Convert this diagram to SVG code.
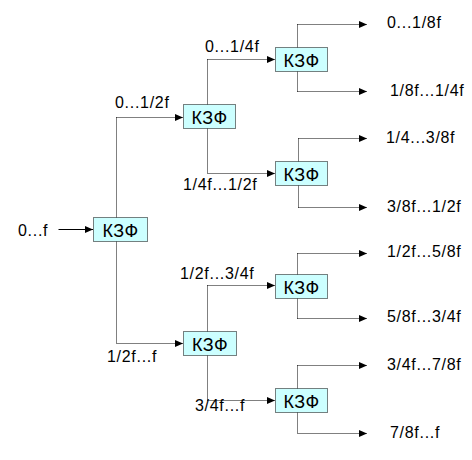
<svg xmlns="http://www.w3.org/2000/svg" width="472" height="460" viewBox="0 0 472 460">
<style>
.bg{fill:#fff}
.box rect{fill:#ccffff;stroke:#000;stroke-width:1;stroke-dasharray:1 1}
.box text{font-family:"Liberation Sans",Arial,sans-serif;font-size:18px;text-anchor:middle;fill:#000;letter-spacing:0.5px}
.lbl{font-family:"Liberation Sans",Arial,sans-serif;font-size:16px;fill:#000;letter-spacing:0.7px}
.c path{fill:none;stroke:#000;stroke-width:1;stroke-dasharray:1 1}
.c .solid{stroke-dasharray:none}
.a{marker-end:url(#ah)}
</style>
<defs>
<marker id="ah" viewBox="0 0 8 8" refX="8" refY="4" markerWidth="8" markerHeight="8" markerUnits="userSpaceOnUse" orient="auto">
<path d="M0,0.5 L8,4 L0,7.5 Z" fill="#000"/>
</marker>
</defs>
<rect class="bg" x="0" y="0" width="472" height="460"/>
<g id="connectors" class="c">
<path class="solid a" d="M58.5,229.5 H93"/>
<path d="M116.5,117.5 V343.5"/>
<path class="a" d="M116.5,117.5 H183"/>
<path class="a" d="M116.5,343.5 H183"/>
<path d="M207.5,59.5 V173.5"/>
<path class="a" d="M207.5,59.5 H275"/>
<path class="a" d="M207.5,173.5 H275"/>
<path d="M207.5,285.5 V400.5"/>
<path class="a" d="M207.5,285.5 H275"/>
<path class="a" d="M207.5,400.5 H275"/>
<path d="M297.5,24.5 V91.5"/>
<path class="a" d="M297.5,24.5 H367"/>
<path class="a" d="M297.5,91.5 H367"/>
<path d="M298.5,138.5 V207.5"/>
<path class="a" d="M298.5,138.5 H367"/>
<path class="a" d="M298.5,207.5 H367"/>
<path d="M297.5,253.5 V318.5"/>
<path class="a" d="M297.5,253.5 H367"/>
<path class="a" d="M297.5,318.5 H367"/>
<path d="M297.5,365.5 V433.5"/>
<path class="a" d="M297.5,365.5 H367"/>
<path class="a" d="M297.5,433.5 H367"/>
</g>
<g id="n0" class="box"><rect x="93.5" y="217.5" width="54" height="24"/><text x="120.5" y="236.5">КЗФ</text></g>
<g id="n1" class="box"><rect x="183.5" y="104.5" width="52" height="24"/><text x="209.5" y="123.5">КЗФ</text></g>
<g id="n2" class="box"><rect x="183.5" y="331.5" width="53" height="24"/><text x="210" y="350.5">КЗФ</text></g>
<g id="n3" class="box"><rect x="275.5" y="47.5" width="52" height="24"/><text x="301.5" y="66.5">КЗФ</text></g>
<g id="n4" class="box"><rect x="275.5" y="161.5" width="52" height="24"/><text x="301.5" y="180.5">КЗФ</text></g>
<g id="n5" class="box"><rect x="275.5" y="274.5" width="52" height="24"/><text x="301.5" y="293.5">КЗФ</text></g>
<g id="n6" class="box"><rect x="275.5" y="388.5" width="52" height="24"/><text x="301.5" y="407.5">КЗФ</text></g>
<g id="labels">
<text class="lbl" x="18" y="236">0...f</text>
<text class="lbl" x="115" y="108">0...1/2f</text>
<text class="lbl" x="107" y="362">1/2f...f</text>
<text class="lbl" x="205" y="52">0...1/4f</text>
<text class="lbl" x="183" y="190">1/4f...1/2f</text>
<text class="lbl" x="180" y="279">1/2f...3/4f</text>
<text class="lbl" x="195" y="411">3/4f...f</text>
<text class="lbl" x="387" y="28">0...1/8f</text>
<text class="lbl" x="390" y="96">1/8f...1/4f</text>
<text class="lbl" x="386" y="143">1/4...3/8f</text>
<text class="lbl" x="387" y="212">3/8f...1/2f</text>
<text class="lbl" x="387" y="257">1/2f...5/8f</text>
<text class="lbl" x="387" y="322">5/8f...3/4f</text>
<text class="lbl" x="387" y="370">3/4f...7/8f</text>
<text class="lbl" x="390" y="438">7/8f...f</text>
</g>
</svg>
